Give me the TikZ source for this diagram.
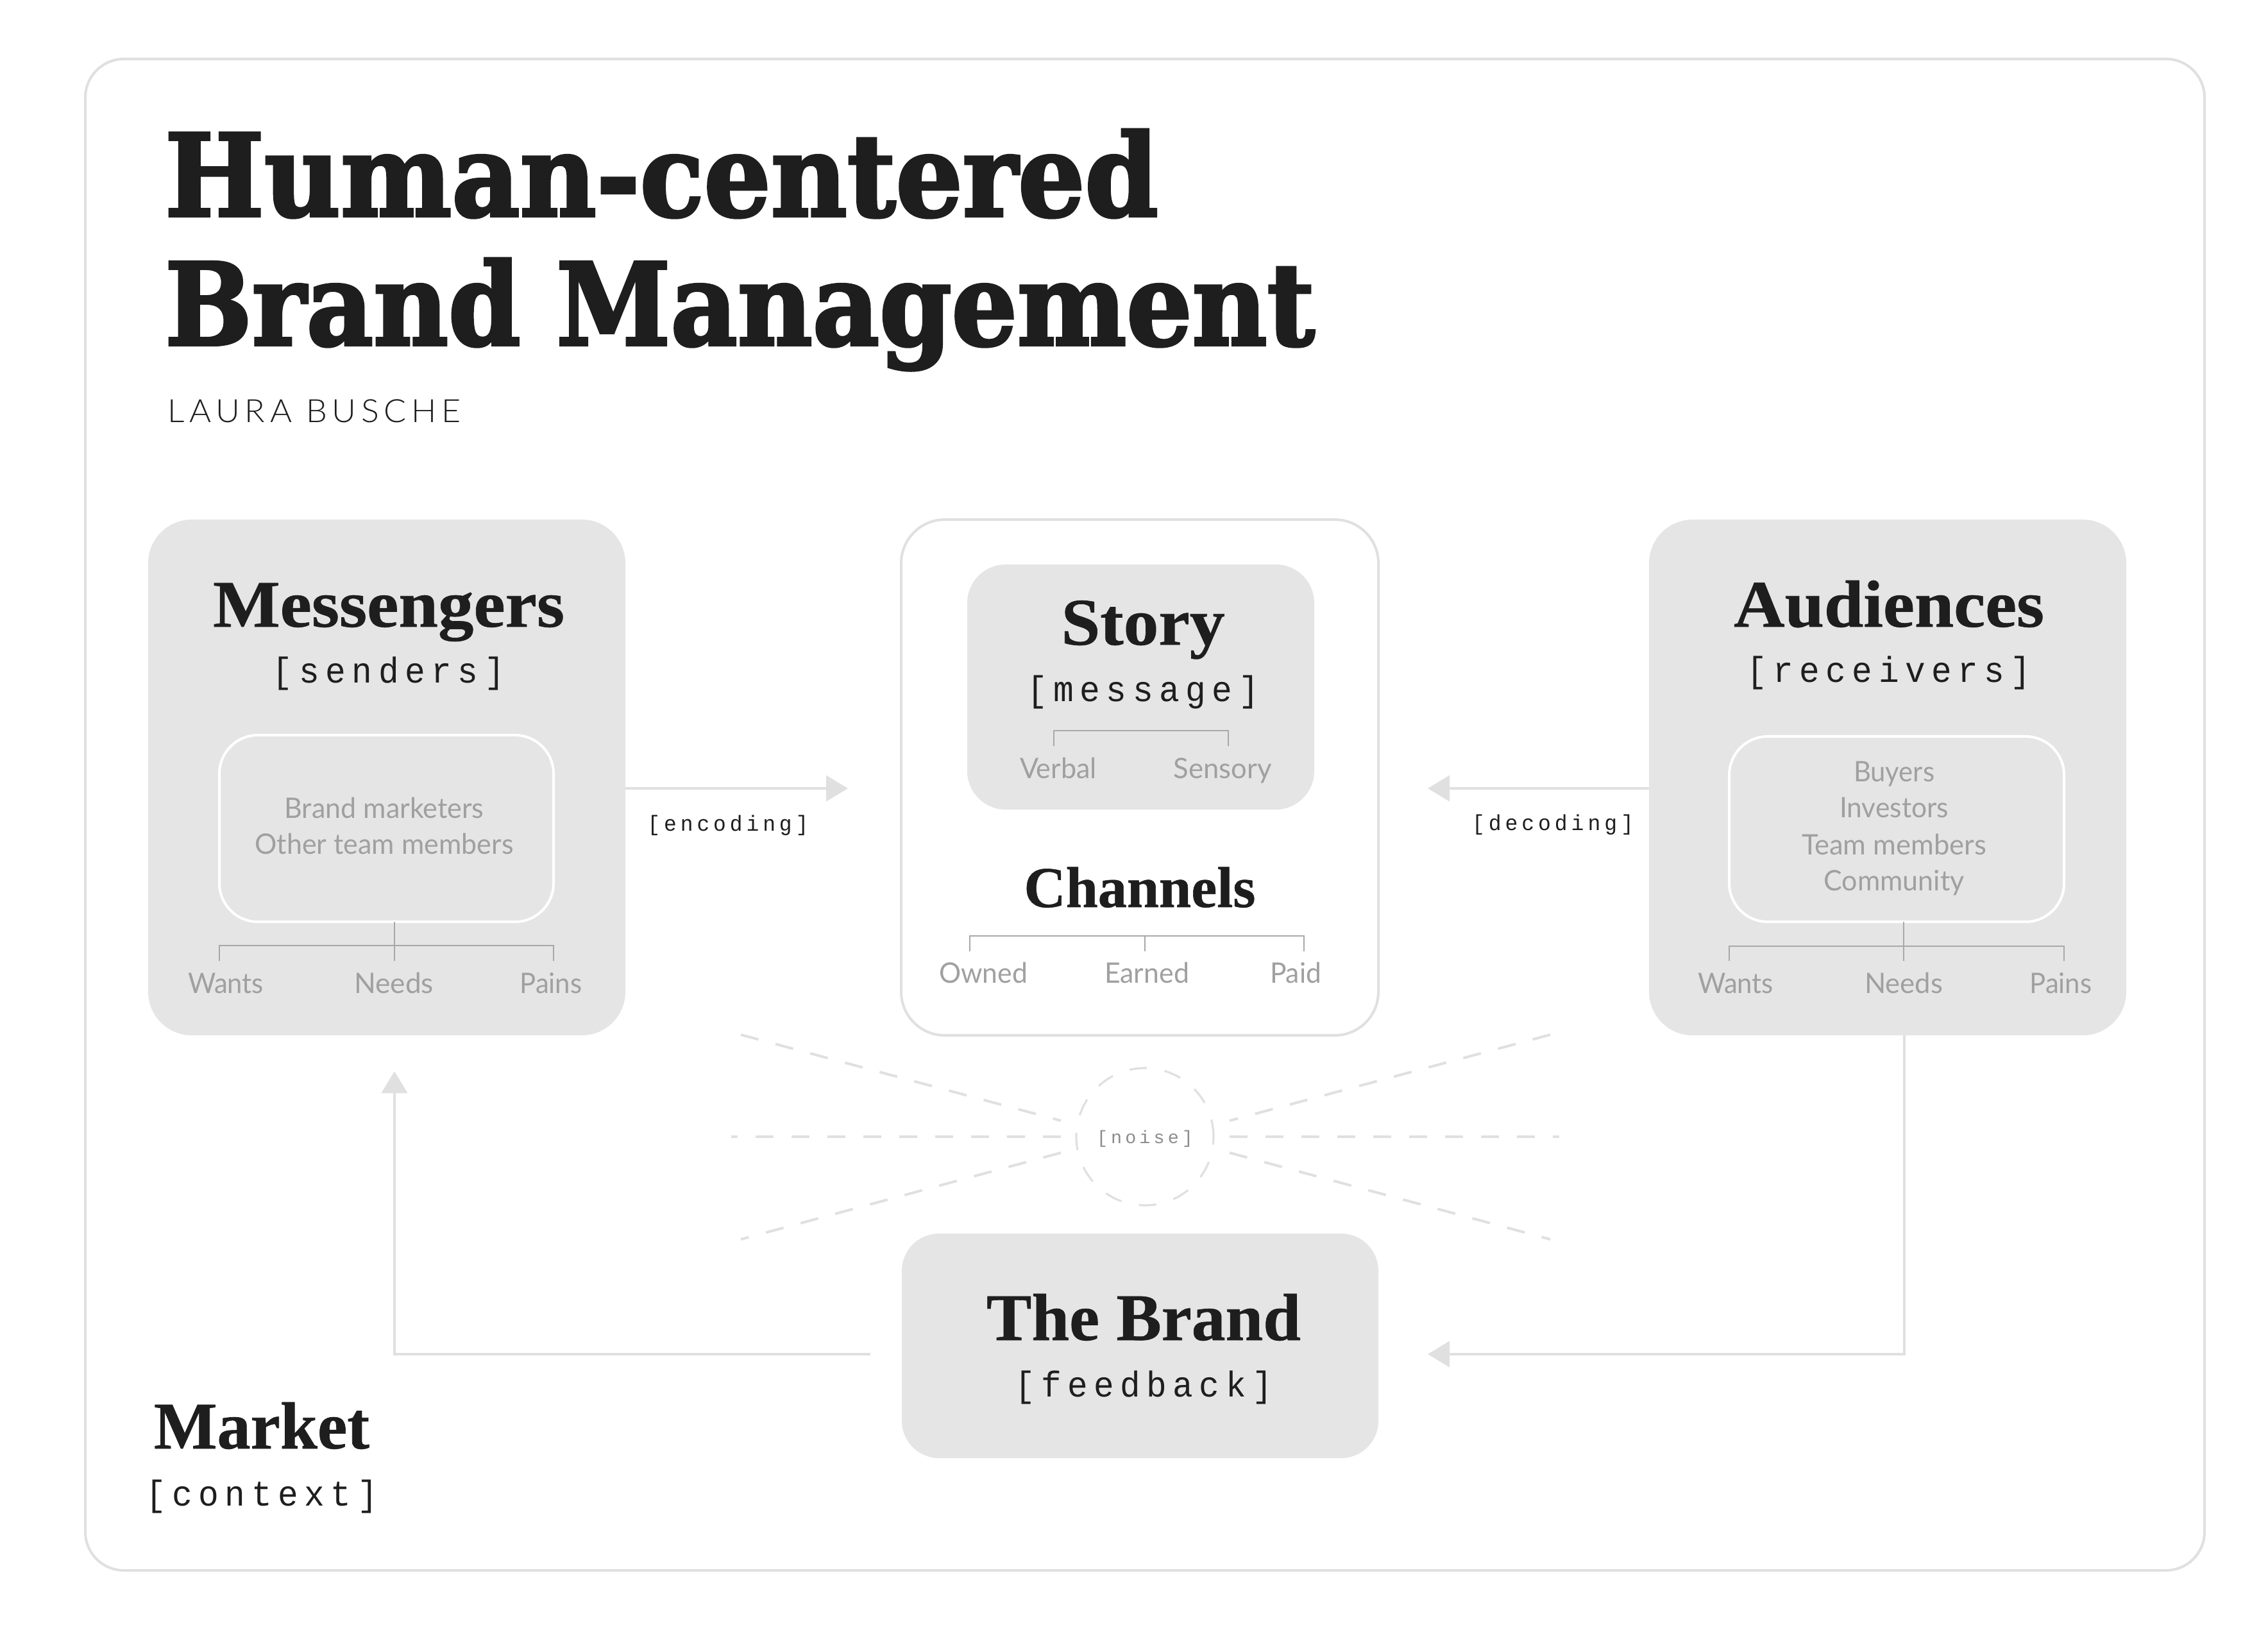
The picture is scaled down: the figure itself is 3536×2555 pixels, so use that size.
\documentclass[tikz,border=0pt]{standalone}
\usepackage{fontspec}
\usepackage{graphicx}
\usetikzlibrary{arrows.meta}
\newfontfamily\titlef[FakeBold=2.5]{DejaVu Serif}
\newfontfamily\headf[FakeBold=0.6]{Liberation Serif}
\newfontfamily\monof[LetterSpace=18]{Liberation Mono}
\newfontfamily\labelf{Lato}
\newfontfamily\authorf[LetterSpace=15]{Lato Light}
\definecolor{ink}{HTML}{1E1E1E}
\definecolor{panel}{HTML}{E6E5E6}
\definecolor{rule}{HTML}{E0E0E0}
\definecolor{soft}{HTML}{A0A0A0}
\definecolor{tick}{HTML}{A8A8A8}
\newcommand\W[2]{\resizebox{\dimexpr#1pt/4\relax}{\height}{#2}}
\tikzset{
  txt/.style={inner sep=0pt,outer sep=0pt,anchor=base},
  titletxt/.style={txt,anchor=base west,text=ink,font=\titlef\bfseries\fontsize{44.5}{44.5}\selectfont},
  head/.style={txt,text=ink,font=\headf\bfseries\fontsize{26}{26}\selectfont},
  tagbig/.style={txt,text=ink,font=\monof\fontsize{14}{14}\selectfont},
  tagsmall/.style={txt,text=ink,font=\monof\fontsize{8.5}{8.5}\selectfont},
  tagnoise/.style={txt,text=gray!90,font=\monof\fontsize{7}{7}\selectfont},
  lab/.style={txt,text=soft,font=\labelf\fontsize{11}{11}\selectfont},
  box/.style={rectangle,inner sep=0pt,outer sep=0pt},
  graybox/.style={box,fill=panel},
  whitebox/.style={box,draw=rule,line width=1pt,fill=white},
  innerbox/.style={box,draw=white,line width=1pt},
  flow/.style={draw=rule,line width=1pt},
  flowtip/.style={flow,-{Triangle[length=8.5pt,width=10pt,fill=rule]}},
  brk/.style={draw=tick,line width=0.55pt},
  ray/.style={draw=rule,line width=1pt,dash pattern=on 7.1pt off 6.9pt},
}
\begin{document}
\begin{tikzpicture}[x=0.25pt,y=-0.25pt]
\useasboundingbox (0,0) rectangle (3536,2555);
\fill[white] (0,0) rectangle (3536,2555);
% frame
\node[box,draw=rule,line width=1pt,rounded corners=15pt,minimum width=826pt,minimum height=589pt] (frame) at (1785,1270) {};
% title
\node[titletxt] (t1) at (257,337) {\W{1549}{Human-centered}};
\node[titletxt] (t2) at (257,538) {\W{1793}{Brand Management}};
\node[txt,anchor=base west,text=ink,font=\authorf\fontsize{12.5}{12.5}\selectfont] (author) at (261,659) {\W{458}{LAURA BUSCHE}};
% panels
\node[graybox,rounded corners=17pt,minimum width=186pt,minimum height=201pt] (msgr) at (603,1212) {};
\node[whitebox,rounded corners=17pt,minimum width=186pt,minimum height=201pt] (mid) at (1777,1212) {};
\node[graybox,rounded corners=17pt,minimum width=186pt,minimum height=201pt] (aud) at (2943,1212) {};
\node[graybox,rounded corners=15pt,minimum width=135.25pt,minimum height=95.5pt] (story) at (1778.5,1071) {};
\node[graybox,rounded corners=14.5pt,minimum width=185.75pt,minimum height=87.5pt] (brand) at (1777.5,2098) {};
\node[innerbox,rounded corners=15pt,minimum width=130.25pt,minimum height=72.75pt] (msgrin) at (602.5,1291.5) {};
\node[innerbox,rounded corners=15pt,minimum width=130.5pt,minimum height=72.25pt] (audin) at (2957,1292.5) {};
% Messengers
\node[head] (hm) at (606,977) {\W{548}{Messengers}};
\node[tagbig] (tm) at (606,1065) {\W{362}{[senders]}};
\node[lab] (m1) at (599,1276) {\W{311}{Brand marketers}};
\node[lab] (m2) at (599,1332) {\W{403}{Other team members}};
\node[lab] (mw) at (352,1549) {\W{118}{Wants}};
\node[lab] (mn) at (614,1549) {\W{124}{Needs}};
\node[lab] (mp) at (859,1549) {\W{97}{Pains}};
\coordinate (mbl) at (342,1474); \coordinate (mbr) at (863,1474); \coordinate (mbc) at (615,1498);
\coordinate (mel) at (342,1498); \coordinate (mer) at (863,1498);
\draw[brk] (mel) -- (mbl) -- (mbr) -- (mer);
\draw[brk] (msgrin.south -| mbc) -- (mbc);
% Story + Channels
\node[head] (hs) at (1782,1005) {\W{255}{Story}};
\node[tagbig] (ts) at (1782,1094) {\W{362}{[message]}};
\coordinate (sbl) at (1643,1139); \coordinate (sbr) at (1915,1139);
\coordinate (sel) at (1643,1163); \coordinate (ser) at (1915,1163);
\draw[brk] (sel) -- (sbl) -- (sbr) -- (ser);
\node[lab] (sv) at (1650,1214) {\W{120}{Verbal}};
\node[lab] (ss) at (1906,1214) {\W{153}{Sensory}};
\node[head,font=\headf\bfseries\fontsize{22.5}{22.5}\selectfont] (hc) at (1777,1414) {\W{361}{Channels}};
\coordinate (cbl) at (1512,1459); \coordinate (cbr) at (2033,1459); \coordinate (cbm) at (1785,1459);
\coordinate (cel) at (1512,1483); \coordinate (cer) at (2033,1483); \coordinate (cem) at (1785,1483);
\draw[brk] (cel) -- (cbl) -- (cbr) -- (cer);
\draw[brk] (cbm) -- (cem);
\node[lab] (co) at (1533,1533) {\W{138}{Owned}};
\node[lab] (ce) at (1788,1533) {\W{132}{Earned}};
\node[lab] (cp) at (2020,1533) {\W{80}{Paid}};
% Audiences
\node[head] (ha) at (2945,977) {\W{484}{Audiences}};
\node[tagbig] (ta) at (2945,1064) {\W{443}{[receivers]}};
\node[lab] (a1) at (2953,1219) {\W{126}{Buyers}};
\node[lab] (a2) at (2953,1275) {\W{170}{Investors}};
\node[lab] (a3) at (2953,1333) {\W{288}{Team members}};
\node[lab] (a4) at (2953,1389) {\W{219}{Community}};
\node[lab] (aw) at (2706,1549) {\W{118}{Wants}};
\node[lab] (an) at (2968,1549) {\W{122}{Needs}};
\node[lab] (ap) at (3213,1549) {\W{97}{Pains}};
\coordinate (abl) at (2696,1475); \coordinate (abr) at (3218,1475); \coordinate (abc) at (2968,1498);
\coordinate (ael) at (2696,1498); \coordinate (aer) at (3218,1498);
\draw[brk] (ael) -- (abl) -- (abr) -- (aer);
\draw[brk] (audin.south -| abc) -- (abc);
% Brand, Market
\node[head] (hb) at (1783,2089) {\W{490}{The Brand}};
\node[tagbig] (tb) at (1783,2177) {\W{402}{[feedback]}};
\node[head,anchor=base west] (hk) at (240,2258) {\W{336}{Market}};
\node[tagbig,anchor=base west] (tk) at (227,2347) {\W{362}{[context]}};
% flow arrows
\coordinate (enc) at (1322,1229);
\coordinate (dec) at (2226,1229);
\draw[flowtip] (msgr.east |- enc) -- (enc);
\draw[flowtip] (aud.west |- dec) -- (dec);
\node[tagsmall] (te) at (1135,1296) {\W{251}{[encoding]}};
\node[tagsmall] (td) at (2421,1295) {\W{252}{[decoding]}};
\coordinate (fbc) at (2969,2111);
\coordinate (fbt) at (2226,2111);
\draw[flowtip] (aud.south -| fbc) -- (fbc) -- (fbt);
\coordinate (lfs) at (1357,2111);
\coordinate (lfc) at (615,2111);
\coordinate (lft) at (615,1670);
\draw[flowtip] (lfs) -- (lfc) -- (lft);
% noise
\node[box,circle,draw=rule,line width=0.8pt,dash pattern=on 6.75pt off 7pt,minimum size=53.5pt] (noise) at (1785,1772) {};
\node[tagnoise] (tn) at (1785,1782) {\W{150}{[noise]}};
\coordinate (l0) at (1140,1772); \coordinate (l1) at (1654,1772);
\coordinate (r0) at (1917,1772); \coordinate (r1) at (2431,1772);
\coordinate (tl0) at (1155,1613); \coordinate (tl1) at (1654,1747);
\coordinate (tr0) at (1917,1747); \coordinate (tr1) at (2417,1613);
\coordinate (bl0) at (1155,1932); \coordinate (bl1) at (1654,1797);
\coordinate (br0) at (1917,1797); \coordinate (br1) at (2417,1932);
\draw[ray] (l1) -- (l0);
\draw[ray] (r0) -- (r1);
\draw[ray] (tl0) -- (tl1);
\draw[ray] (tr1) -- (tr0);
\draw[ray] (bl1) -- (bl0);
\draw[ray] (br0) -- (br1);
\end{tikzpicture}
\end{document}
